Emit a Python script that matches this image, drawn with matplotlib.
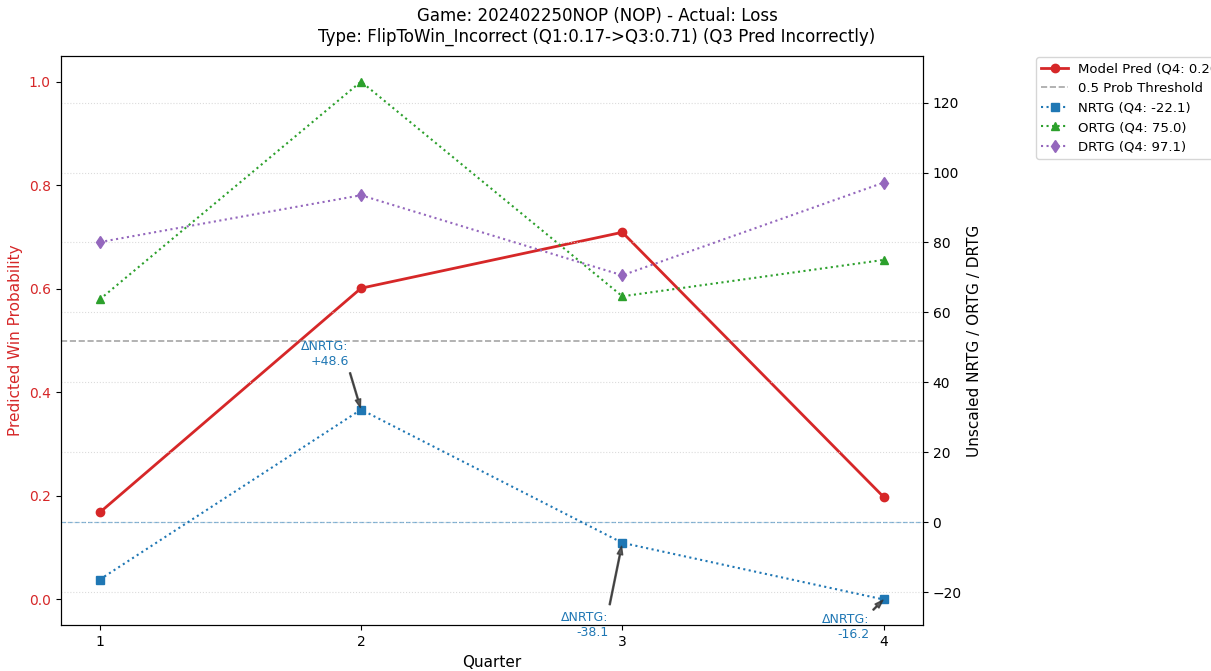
import numpy as np
import matplotlib.pyplot as plt

quarters = [1, 2, 3, 4]
win_prob = [0.168, 0.601, 0.709, 0.198]
nrtg = [-16.4, 32.2, -5.9, -22.1]
ortg = [63.7, 126.0, 64.6, 75.0]
drtg = [80.1, 93.5, 70.6, 97.1]

game_id = '202402250NOP'
team = 'NOP'
result = 'Loss'
flip_type = 'FlipToWin_Incorrect'

fig, ax = plt.subplots(figsize=(12.11, 6.71), dpi=100)
fig.subplots_adjust(left=0.05, right=0.762, top=0.917, bottom=0.068)
ax2 = ax.twinx()

ax.plot(quarters, win_prob,
        color='tab:red',
        linewidth=2,
        marker='o',
        markersize=6,
        label=f'Model Pred (Q4: {win_prob[-1]:.2f})')
ax.axhline(0.5, color='gray', linestyle='--', alpha=0.7, linewidth=1.2,
           label='0.5 Prob Threshold')
ax.set_ylim(-0.05, 1.05)
ax.set_xticks(quarters)
ax.set_xlabel('Quarter', fontsize=11)
ax.set_ylabel('Predicted Win Probability', color='tab:red', fontsize=11)
ax.tick_params(axis='y', labelcolor='tab:red')

ax2.plot(quarters, nrtg, color='tab:blue', linestyle=':', linewidth=1.5,
         marker='s', markersize=6, label=f'NRTG (Q4: {nrtg[-1]:.1f})')
ax2.plot(quarters, ortg, color='tab:green', linestyle=':', linewidth=1.5,
         marker='^', markersize=6, label=f'ORTG (Q4: {ortg[-1]:.1f})')
ax2.plot(quarters, drtg, color='tab:purple', linestyle=':', linewidth=1.5,
         marker='d', markersize=6, label=f'DRTG (Q4: {drtg[-1]:.1f})')
ax2.axhline(0, color='tab:blue', linestyle='--', alpha=0.5, linewidth=0.9)
allv = np.array(nrtg + ortg + drtg)
lo, hi = allv.min(), allv.max()
span = hi - lo
ax2.set_ylim(lo - 0.05*span, hi + 0.05*span)
ax2.set_ylabel('Unscaled NRTG / ORTG / DRTG', fontsize=11)
ax2.grid(True, axis='y', linestyle=':', color='lightgray', alpha=0.8)

# annotate NRTG changes
offsets = {2: (-9, 30), 3: (-10, -49), 4: (-10, -10)}
for i in range(1, len(quarters)):
    d = nrtg[i] - nrtg[i-1]
    ax2.annotate(f'ΔNRTG:\n{d:+.1f}', (quarters[i], nrtg[i]),
                 xytext=offsets[quarters[i]], textcoords='offset points',
                 ha='right', va='bottom' if d > 0 else 'top',
                 fontsize=9, color='tab:blue',
                 arrowprops=dict(facecolor='#333333', edgecolor='#333333',
                                 alpha=0.8, width=0.8, headwidth=4,
                                 headlength=6, shrink=0.05))

h1, l1 = ax.get_legend_handles_labels()
h2, l2 = ax2.get_legend_handles_labels()
ax.legend(h1 + h2, l1 + l2, loc='upper left', bbox_to_anchor=(1.13, 1.0),
          fontsize=9.5, borderaxespad=0.1)

fig.suptitle(f'Game: {game_id} ({team}) - Actual: {result}\n'
             f'Type: {flip_type} (Q1:{win_prob[0]:.2f}->Q3:{win_prob[2]:.2f}) (Q3 Pred Incorrectly)',
             x=0.493, y=0.99, fontsize=12)

plt.savefig('out.png', dpi=100)
